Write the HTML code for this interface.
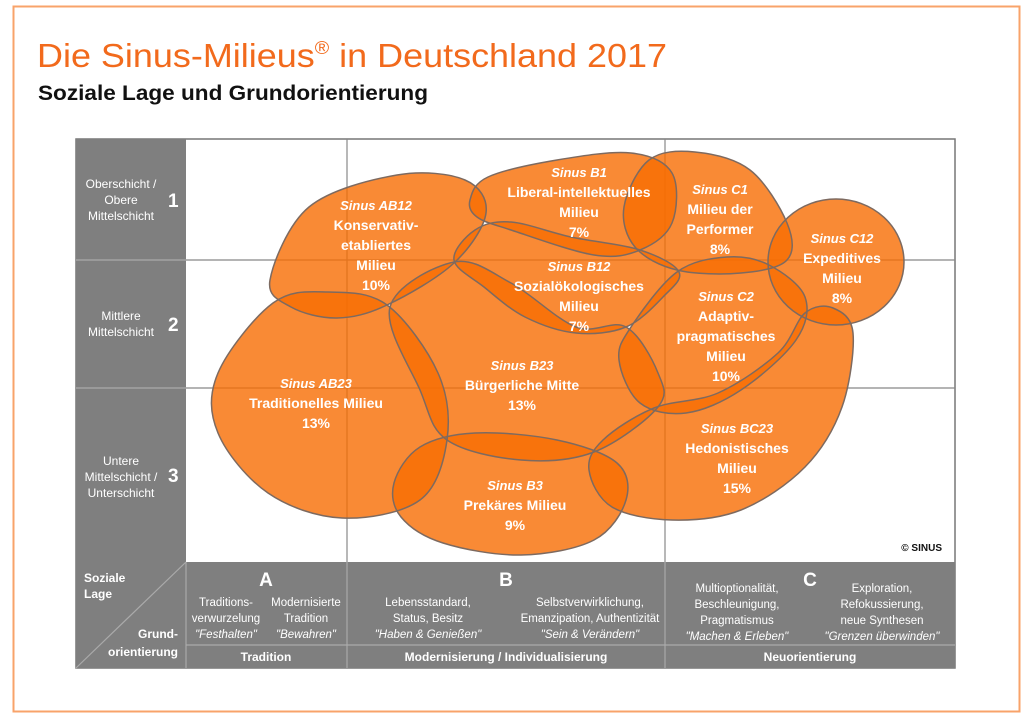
<!DOCTYPE html>
<html><head><meta charset="utf-8"><style>
html,body{margin:0;padding:0;background:#fff;}
svg{display:block;font-family:"Liberation Sans",sans-serif;}
</style></head><body>
<svg id="s" width="1028" height="716" viewBox="0 0 1028 716" xmlns="http://www.w3.org/2000/svg">
<rect x="13.5" y="6.5" width="1006" height="705" fill="none" stroke="#f8a36a" stroke-width="2"/>
<text x="37" y="67" font-size="33" fill="#f26a1c" textLength="630" lengthAdjust="spacingAndGlyphs">Die Sinus-Milieus<tspan font-size="18" dy="-13">®</tspan><tspan dy="13"> in Deutschland 2017</tspan></text>
<text x="38" y="100" font-size="21" font-weight="bold" fill="#111" textLength="390" lengthAdjust="spacingAndGlyphs">Soziale Lage und Grundorientierung</text>
<!-- grid -->
<rect x="76" y="139" width="879" height="529" fill="#fff" stroke="#777" stroke-width="1.5"/>
<rect x="76" y="139" width="110" height="423" fill="#7f7f7f"/>
<g stroke="#888" stroke-width="1.2">
<line x1="186" y1="260" x2="955" y2="260"/><line x1="186" y1="388" x2="955" y2="388"/>
<line x1="76" y1="260" x2="186" y2="260" stroke="#aaa"/><line x1="76" y1="388" x2="186" y2="388" stroke="#aaa"/>
<line x1="347" y1="139" x2="347" y2="562"/><line x1="665" y1="139" x2="665" y2="562"/>
</g>
<g fill="#fff" font-size="12" text-anchor="middle">
<text x="121" y="188">Oberschicht /</text><text x="121" y="204">Obere</text><text x="121" y="220">Mittelschicht</text>
<text x="121" y="320">Mittlere</text><text x="121" y="336">Mittelschicht</text>
<text x="121" y="465">Untere</text><text x="121" y="481">Mittelschicht /</text><text x="121" y="497">Unterschicht</text>
</g>
<g fill="#fff" font-size="19" font-weight="bold"><text x="168" y="207">1</text><text x="168" y="331">2</text><text x="168" y="482">3</text></g>
<g id="blobs"></g>
<g id="labels" fill="#fff" font-weight="bold" text-anchor="middle" font-size="14"></g>
<text x="942" y="551" font-size="10" font-weight="bold" text-anchor="end" fill="#111">© SINUS</text>
<!-- bottom -->
<rect x="76" y="562" width="879" height="106" fill="#7f7f7f"/>
<g stroke="#aaa" stroke-width="1.2">
<line x1="186" y1="562" x2="186" y2="668"/><line x1="347" y1="562" x2="347" y2="668"/><line x1="665" y1="562" x2="665" y2="668"/>
<line x1="186" y1="645" x2="955" y2="645"/><line x1="186" y1="562" x2="76" y2="668"/>
</g>
<g fill="#fff" font-size="12">
<text x="84" y="582" font-weight="bold">Soziale</text><text x="84" y="598" font-weight="bold">Lage</text>
<text x="178" y="638" font-weight="bold" text-anchor="end">Grund-</text><text x="178" y="656" font-weight="bold" text-anchor="end">orientierung</text>
</g>
<g fill="#fff" font-size="19" font-weight="bold" text-anchor="middle"><text x="266" y="586">A</text><text x="506" y="586">B</text><text x="810" y="586">C</text></g>
<g fill="#fff" font-size="11.5" text-anchor="middle">
<text x="226" y="606">Traditions-</text><text x="226" y="622">verwurzelung</text><text x="226" y="638" font-style="italic">"Festhalten"</text>
<text x="306" y="606">Modernisierte</text><text x="306" y="622">Tradition</text><text x="306" y="638" font-style="italic">"Bewahren"</text>
<text x="428" y="606">Lebensstandard,</text><text x="428" y="622">Status, Besitz</text><text x="428" y="638" font-style="italic">"Haben &amp; Genießen"</text>
<text x="590" y="606">Selbstverwirklichung,</text><text x="590" y="622">Emanzipation, Authentizität</text><text x="590" y="638" font-style="italic">"Sein &amp; Verändern"</text>
<text x="737" y="592">Multioptionalität,</text><text x="737" y="608">Beschleunigung,</text><text x="737" y="624">Pragmatismus</text><text x="737" y="640" font-style="italic">"Machen &amp; Erleben"</text>
<text x="882" y="592">Exploration,</text><text x="882" y="608">Refokussierung,</text><text x="882" y="624">neue Synthesen</text><text x="882" y="640" font-style="italic">"Grenzen überwinden"</text>
</g>
<g fill="#fff" font-size="12" font-weight="bold" text-anchor="middle">
<text x="266" y="661">Tradition</text><text x="506" y="661">Modernisierung / Individualisierung</text><text x="810" y="661">Neuorientierung</text>
</g>
</svg>
<script>
var shapes=[
[[270,280],[309,207],[397,175],[465,180],[486,213],[454,263],[387,305],[337,318],[291,307]],
[[470,200],[488,177],[557,160],[631,153],[672,173],[672,223],[640,250],[594,255],[511,230],[477,217]],
[[624,207],[649,160],[695,152],[750,170],[787,223],[787,260],[741,273],[677,270],[635,247]],
"E",
[[454,260],[475,230],[511,222],[571,237],[640,250],[679,272],[663,297],[626,327],[576,333],[525,317],[484,287]],
[[631,327],[677,272],[727,257],[769,265],[805,297],[796,340],[741,390],[686,413],[640,403],[619,360]],
[[273,303],[328,292],[387,305],[438,373],[447,440],[420,500],[342,518],[268,493],[218,433],[218,373]],
[[454,262],[511,283],[576,327],[626,327],[658,373],[658,407],[594,452],[521,460],[447,440],[420,390],[390,307]],
[[805,313],[833,308],[853,333],[842,407],[805,467],[741,510],[672,520],[612,507],[589,470],[603,440],[654,408],[718,393],[778,353]],
[[394,483],[420,447],[475,433],[557,440],[617,463],[626,500],[594,540],[521,555],[443,543],[401,517]]
];
function cr(p){var n=p.length,d="M"+p[0][0]+","+p[0][1];
for(var i=0;i<n;i++){var p0=p[(i-1+n)%n],p1=p[i],p2=p[(i+1)%n],p3=p[(i+2)%n];
d+="C"+(p1[0]+(p2[0]-p0[0])/6)+","+(p1[1]+(p2[1]-p0[1])/6)+" "+(p2[0]-(p3[0]-p1[0])/6)+","+(p2[1]-(p3[1]-p1[1])/6)+" "+p2[0]+","+p2[1];}
return d+"Z";}
var NS="http://www.w3.org/2000/svg",g=document.getElementById("blobs"),outl=[];
shapes.forEach(function(s){var e;
if(s==="E"){e=document.createElementNS(NS,"ellipse");e.setAttribute("cx",836);e.setAttribute("cy",262);e.setAttribute("rx",68);e.setAttribute("ry",63);}
else{e=document.createElementNS(NS,"path");e.setAttribute("d",cr(s));}
e.setAttribute("fill","rgb(247,109,3)");e.setAttribute("fill-opacity","0.8");g.appendChild(e);outl.push(e);});
outl.forEach(function(e){var c=e.cloneNode();c.setAttribute("fill","none");c.setAttribute("stroke","#7d6a60");c.setAttribute("stroke-width","1.5");g.appendChild(c);});
var L=[[376,205,["Sinus AB12","Konservativ-","etabliertes","Milieu","10%"]],
[579,172,["Sinus B1","Liberal-intellektuelles","Milieu","7%"]],
[720,189,["Sinus C1","Milieu der","Performer","8%"]],
[842,238,["Sinus C12","Expeditives","Milieu","8%"]],
[579,266,["Sinus B12","Sozialökologisches","Milieu","7%"]],
[726,296,["Sinus C2","Adaptiv-","pragmatisches","Milieu","10%"]],
[316,383,["Sinus AB23","Traditionelles Milieu","13%"]],
[522,365,["Sinus B23","Bürgerliche Mitte","13%"]],
[737,428,["Sinus BC23","Hedonistisches","Milieu","15%"]],
[515,485,["Sinus B3","Prekäres Milieu","9%"]]];
var lg=document.getElementById("labels");
L.forEach(function(l){l[2].forEach(function(t,i){var e=document.createElementNS(NS,"text");e.setAttribute("x",l[0]);e.setAttribute("y",l[1]+5+i*20);
if(i==0){e.setAttribute("font-style","italic");e.setAttribute("font-size","13");}
e.textContent=t;lg.appendChild(e);});});
</script>
</body></html>
